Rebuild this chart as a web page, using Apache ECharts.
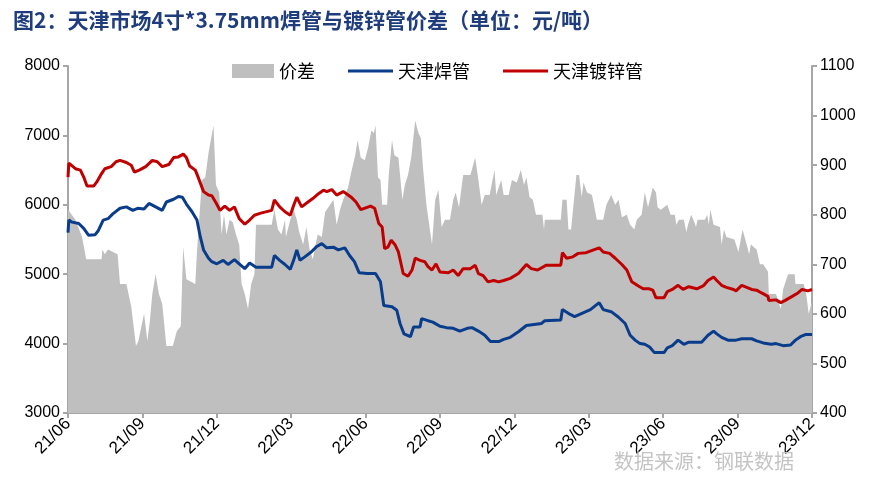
<!DOCTYPE html>
<html><head><meta charset="utf-8">
<script src="https://cdn.jsdelivr.net/npm/echarts@6/dist/echarts.min.js"></script>
<style>html,body{margin:0;padding:0;background:#fff}#c{width:873px;height:493px}</style>
</head><body><div id="c"></div>
<script>
// ---- data ----
const xTickLabels = ['21/06','21/09','21/12','22/03','22/06','22/09','22/12','23/03','23/06','23/09','23/12'];
const seriesNames = ['价差','天津焊管','天津镀锌管'];

const weldDates = ['2021-06-01','2021-06-02','2021-06-06','2021-06-14','2021-06-20','2021-06-26','2021-07-04','2021-07-08','2021-07-14','2021-07-20','2021-07-26','2021-08-04','2021-08-12','2021-08-20','2021-08-26','2021-09-03','2021-09-09','2021-09-17','2021-09-25','2021-09-30','2021-10-09','2021-10-15','2021-10-20','2021-10-25','2021-11-01','2021-11-07','2021-11-11','2021-11-15','2021-11-21','2021-11-25','2021-12-01','2021-12-09','2021-12-15','2021-12-23','2021-12-29','2022-01-05','2022-01-11','2022-01-19','2022-02-07','2022-02-10','2022-02-16','2022-02-22','2022-02-28','2022-03-04','2022-03-08','2022-03-12','2022-03-18','2022-03-26','2022-04-02','2022-04-08','2022-04-14','2022-04-22','2022-04-28','2022-05-06','2022-05-12','2022-05-18','2022-05-24','2022-06-03','2022-06-13','2022-06-19','2022-06-23','2022-07-03','2022-07-09','2022-07-13','2022-07-18','2022-07-26','2022-07-30','2022-08-07','2022-08-09','2022-08-17','2022-08-23','2022-09-01','2022-09-09','2022-09-17','2022-09-25','2022-10-04','2022-10-10','2022-10-18','2022-10-26','2022-11-02','2022-11-12','2022-11-18','2022-11-26','2022-12-06','2022-12-16','2023-01-04','2023-01-08','2023-01-28','2023-01-30','2023-02-08','2023-02-13','2023-02-20','2023-03-03','2023-03-14','2023-03-19','2023-03-29','2023-04-07','2023-04-15','2023-04-21','2023-04-27','2023-05-03','2023-05-09','2023-05-15','2023-05-21','2023-06-02','2023-06-06','2023-06-12','2023-06-19','2023-06-26','2023-07-02','2023-07-18','2023-07-26','2023-08-02','2023-08-06','2023-08-12','2023-08-20','2023-08-30','2023-09-06','2023-09-18','2023-09-24','2023-10-02','2023-10-12','2023-10-18','2023-10-27','2023-11-05','2023-11-11','2023-11-17','2023-11-23','2023-12-01'];
const weldPrices = [5600,5780,5750,5730,5660,5560,5570,5630,5780,5800,5870,5950,5970,5920,5950,5940,6020,5970,5920,6040,6080,6120,6110,6010,5900,5780,5540,5350,5230,5180,5150,5200,5140,5210,5150,5080,5160,5100,5100,5270,5200,5140,5070,5200,5350,5200,5250,5320,5400,5440,5380,5390,5350,5380,5270,5180,5020,5010,5010,4890,4550,4530,4480,4290,4140,4100,4240,4240,4360,4330,4310,4250,4230,4220,4180,4220,4230,4180,4120,4030,4030,4060,4090,4170,4260,4290,4330,4340,4490,4420,4390,4430,4490,4590,4490,4460,4380,4290,4120,4050,4000,3990,3950,3870,3870,3940,3970,4050,3990,4020,4020,4120,4180,4140,4090,4050,4050,4070,4070,4040,4010,3990,4000,3970,3980,4050,4100,4130,4130];

const galvDates = ['2021-06-01','2021-06-02','2021-06-10','2021-06-16','2021-06-20','2021-06-24','2021-07-02','2021-07-06','2021-07-12','2021-07-16','2021-07-24','2021-07-30','2021-08-04','2021-08-12','2021-08-18','2021-08-22','2021-08-28','2021-09-05','2021-09-13','2021-09-19','2021-09-25','2021-10-03','2021-10-09','2021-10-15','2021-10-21','2021-10-25','2021-10-29','2021-11-05','2021-11-09','2021-11-15','2021-11-21','2021-11-25','2021-11-30','2021-12-05','2021-12-11','2021-12-17','2021-12-23','2021-12-29','2022-01-05','2022-01-11','2022-01-17','2022-01-25','2022-02-07','2022-02-10','2022-02-16','2022-02-22','2022-02-28','2022-03-04','2022-03-08','2022-03-14','2022-03-22','2022-03-28','2022-04-04','2022-04-10','2022-04-14','2022-04-20','2022-04-26','2022-05-04','2022-05-08','2022-05-14','2022-05-20','2022-05-26','2022-06-07','2022-06-12','2022-06-17','2022-06-21','2022-06-24','2022-06-28','2022-07-02','2022-07-07','2022-07-11','2022-07-17','2022-07-23','2022-07-28','2022-08-01','2022-08-07','2022-08-13','2022-08-17','2022-08-22','2022-08-27','2022-09-01','2022-09-11','2022-09-17','2022-09-23','2022-09-29','2022-10-08','2022-10-14','2022-10-18','2022-10-24','2022-10-30','2022-11-06','2022-11-12','2022-11-18','2022-11-26','2022-12-06','2022-12-16','2022-12-22','2022-12-30','2023-01-10','2023-01-28','2023-01-30','2023-02-04','2023-02-11','2023-02-17','2023-02-26','2023-03-07','2023-03-14','2023-03-19','2023-03-27','2023-04-03','2023-04-11','2023-04-17','2023-04-23','2023-05-01','2023-05-07','2023-05-14','2023-05-19','2023-05-23','2023-06-02','2023-06-06','2023-06-12','2023-06-19','2023-06-25','2023-07-02','2023-07-12','2023-07-20','2023-07-26','2023-08-02','2023-08-06','2023-08-12','2023-08-18','2023-08-27','2023-08-30','2023-09-06','2023-09-12','2023-09-18','2023-09-24','2023-09-30','2023-10-08','2023-10-09','2023-10-18','2023-10-24','2023-10-29','2023-11-07','2023-11-14','2023-11-19','2023-11-26','2023-12-01'];
const galvPrices = [6400,6600,6520,6500,6400,6270,6270,6330,6450,6520,6550,6620,6640,6610,6570,6470,6500,6550,6640,6620,6550,6580,6680,6690,6730,6680,6560,6500,6380,6190,6140,6130,6030,5920,5980,5920,5970,5800,5720,5780,5850,5880,5920,6070,5970,5900,5850,5990,6110,5970,6040,6090,6160,6210,6190,6220,6140,6190,6160,6110,6040,5930,5980,5950,5730,5680,5370,5390,5490,5420,5320,5010,4970,5060,5230,5200,5180,5110,5060,5150,5030,5020,5060,4980,5080,5080,5130,5010,4980,4890,4910,4890,4910,4940,5010,5140,5080,5060,5130,5130,5310,5230,5250,5300,5310,5350,5380,5320,5300,5230,5140,5060,4890,4830,4790,4790,4770,4660,4660,4750,4780,4840,4780,4820,4790,4830,4910,4960,4910,4840,4810,4780,4760,4840,4810,4780,4770,4730,4680,4620,4630,4590,4620,4680,4730,4780,4760,4780];

const gapDates = ['2021-06-01','2021-06-10','2021-06-18','2021-06-23','2021-07-12','2021-07-13','2021-07-16','2021-07-20','2021-08-01','2021-08-04','2021-08-12','2021-08-18','2021-08-24','2021-08-27','2021-09-03','2021-09-07','2021-09-10','2021-09-13','2021-09-17','2021-09-21','2021-09-25','2021-09-30','2021-10-08','2021-10-13','2021-10-18','2021-10-21','2021-10-25','2021-11-05','2021-11-07','2021-11-13','2021-11-17','2021-11-21','2021-11-27','2021-11-30','2021-12-04','2021-12-07','2021-12-10','2021-12-13','2021-12-17','2021-12-21','2021-12-25','2021-12-29','2022-01-01','2022-01-05','2022-01-09','2022-01-13','2022-01-17','2022-01-19','2022-02-07','2022-02-10','2022-02-14','2022-02-18','2022-02-22','2022-02-23','2022-02-28','2022-03-04','2022-03-08','2022-03-11','2022-03-16','2022-03-20','2022-03-24','2022-03-28','2022-04-03','2022-04-08','2022-04-12','2022-04-16','2022-04-22','2022-04-26','2022-04-30','2022-05-04','2022-05-10','2022-05-14','2022-05-19','2022-05-22','2022-05-26','2022-05-31','2022-06-04','2022-06-08','2022-06-11','2022-06-13','2022-06-16','2022-06-19','2022-06-21','2022-06-27','2022-06-29','2022-07-03','2022-07-06','2022-07-11','2022-07-16','2022-07-19','2022-07-23','2022-07-27','2022-08-01','2022-08-05','2022-08-08','2022-08-11','2022-08-15','2022-08-22','2022-08-26','2022-08-30','2022-09-03','2022-09-07','2022-09-13','2022-09-17','2022-09-20','2022-09-24','2022-09-29','2022-10-08','2022-10-14','2022-10-18','2022-10-22','2022-10-26','2022-11-01','2022-11-07','2022-11-09','2022-11-15','2022-11-18','2022-11-24','2022-11-28','2022-12-04','2022-12-09','2022-12-13','2022-12-16','2022-12-20','2022-12-24','2022-12-28','2023-01-05','2023-01-07','2023-01-08','2023-01-28','2023-01-30','2023-02-04','2023-02-06','2023-02-09','2023-02-15','2023-02-18','2023-02-21','2023-02-23','2023-02-27','2023-03-05','2023-03-08','2023-03-11','2023-03-19','2023-03-23','2023-03-29','2023-04-03','2023-04-07','2023-04-11','2023-04-17','2023-04-21','2023-04-26','2023-04-29','2023-05-05','2023-05-09','2023-05-13','2023-05-19','2023-05-23','2023-05-25','2023-05-29','2023-06-06','2023-06-10','2023-06-15','2023-06-17','2023-06-20','2023-06-26','2023-06-29','2023-07-01','2023-07-05','2023-07-09','2023-07-11','2023-07-13','2023-07-22','2023-07-25','2023-07-27','2023-07-29','2023-08-02','2023-08-10','2023-08-12','2023-08-15','2023-08-18','2023-08-28','2023-09-02','2023-09-07','2023-09-12','2023-09-15','2023-09-17','2023-09-24','2023-09-28','2023-10-02','2023-10-08','2023-10-09','2023-10-18','2023-10-24','2023-10-27','2023-11-02','2023-11-10','2023-11-11','2023-11-21','2023-11-24','2023-11-27','2023-12-01'];
const gapValues = [810,790,755,710,710,730,720,730,720,660,660,615,535,545,600,545,585,640,680,640,620,535,535,565,575,735,670,660,725,870,875,925,980,860,845,760,800,760,790,785,760,740,660,640,610,660,680,780,780,810,770,760,790,755,790,810,790,765,740,775,730,710,760,755,805,815,830,780,810,830,855,885,920,950,915,910,935,970,965,980,875,870,820,820,880,950,920,915,830,860,880,915,990,965,955,890,820,740,830,850,775,790,790,830,845,815,880,880,915,870,820,840,840,890,840,870,840,840,870,865,890,860,875,835,830,800,800,770,790,790,830,830,770,770,880,880,835,865,845,840,815,790,790,820,840,820,830,795,800,780,770,790,800,845,815,855,845,815,810,820,800,800,780,790,790,765,780,800,785,775,790,790,800,780,810,780,775,740,770,755,750,725,770,740,720,740,730,700,700,685,640,640,610,650,680,680,660,660,640,600,625];

// ---- helpers ----
function monthPos(s){
  const p = s.split('-').map(Number);
  const dim = new Date(p[0], p[1], 0).getDate();
  return (p[0]-2021)*12 + (p[1]-6) + (p[2]-1)/dim;
}
function pair(dates, vals){ return dates.map((d,i)=>[monthPos(d), vals[i]]); }

const chart = echarts.init(document.getElementById('c'), null, {renderer:'canvas'});
const axisGray = '#A6A6A6';
const numFont = 'Liberation Sans, Arial, sans-serif';
const cjk = '"Noto Sans CJK SC", sans-serif';
const blue = '#0A3C8C', red = '#C00000', gray = '#BFBFBF';
const plain = v => String(v);

chart.setOption({
  animation:false,
  backgroundColor:'#fff',
  title:{
    text:'图2：天津市场4寸*3.75mm焊管与镀锌管价差（单位：元/吨）',
    left:8, top:5,
    textStyle:{fontFamily:cjk, fontWeight:'bold', fontSize:21, color:'#1F3D7C'}
  },
  legend:[
    {left:227, top:57, itemWidth:42, itemHeight:14,
     textStyle:{fontFamily:cjk, fontSize:18, color:'#000'},
     data:[{name:seriesNames[0], icon:'rect', itemStyle:{color:gray}}]},
    {left:343, top:57, itemWidth:45, itemHeight:3, itemGap:33,
     textStyle:{fontFamily:cjk, fontSize:18, color:'#000'},
     data:[{name:seriesNames[1], icon:'rect', itemStyle:{color:blue}},
           {name:seriesNames[2], icon:'rect', itemStyle:{color:red}}]}
  ],
  grid:{left:68, right:61, top:66, bottom:80},
  xAxis:{
    type:'value', min:0, max:30, interval:3,
    axisLine:{lineStyle:{color:axisGray, width:2}},
    axisTick:{show:true, length:5, lineStyle:{color:axisGray, width:2}},
    splitLine:{show:false},
    axisLabel:{
      rotate:45, margin:8, fontSize:17, color:'#000', fontFamily:numFont,
      formatter:function(v){ const i = Math.round(v/3); return xTickLabels[i] || ''; }
    }
  },
  yAxis:[
    {type:'value', min:3000, max:8000, interval:1000, position:'left',
     axisLine:{show:true, lineStyle:{color:axisGray, width:2}},
     axisTick:{show:true, length:5, lineStyle:{color:axisGray, width:2}},
     splitLine:{show:false},
     axisLabel:{margin:8, fontSize:16, color:'#000', fontFamily:numFont, formatter:plain}},
    {type:'value', min:400, max:1100, interval:100, position:'right',
     axisLine:{show:true, lineStyle:{color:axisGray, width:2}},
     axisTick:{show:true, length:5, lineStyle:{color:axisGray, width:2}},
     splitLine:{show:false},
     axisLabel:{margin:8, fontSize:16, color:'#000', fontFamily:numFont, formatter:plain}}
  ],
  series:[
    {name:seriesNames[0], type:'line', yAxisIndex:1, data:pair(gapDates, gapValues),
     symbol:'none', lineStyle:{width:0, color:gray}, itemStyle:{color:gray},
     areaStyle:{color:gray, opacity:1, origin:'start'}, z:1},
    {name:seriesNames[1], type:'line', yAxisIndex:0, data:pair(weldDates, weldPrices),
     symbol:'none', lineStyle:{width:3, color:blue}, itemStyle:{color:blue}, z:3},
    {name:seriesNames[2], type:'line', yAxisIndex:0, data:pair(galvDates, galvPrices),
     symbol:'none', lineStyle:{width:3, color:red}, itemStyle:{color:red}, z:3}
  ],
  graphic:[
    {type:'text', left:614, top:451, z:100,
     style:{text:'数据来源：钢联数据', fill:'#C4C4C4', font:'20px "Noto Sans CJK SC", sans-serif'}}
  ]
});
</script>
</body></html>
